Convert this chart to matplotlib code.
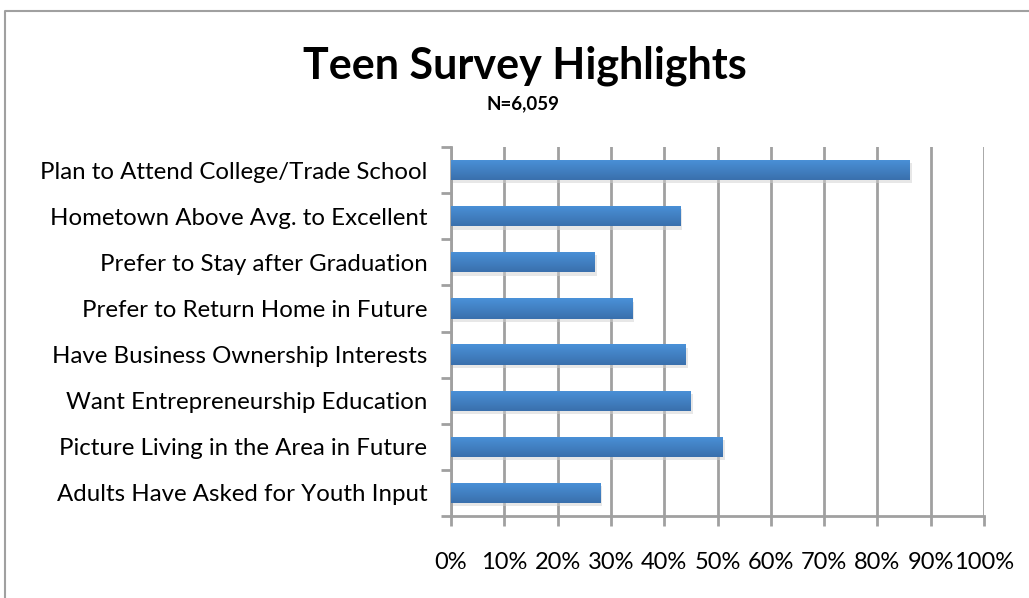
import numpy as np
import matplotlib
matplotlib.use('Agg')
import matplotlib.pyplot as plt
from matplotlib import ticker
from matplotlib.colors import LinearSegmentedColormap
from matplotlib.lines import Line2D

# chart data, top to bottom
categories = [
    'Plan to Attend College/Trade School',
    'Hometown Above Avg. to Excellent',
    'Prefer to Stay after Graduation',
    'Prefer to Return Home in Future',
    'Have Business Ownership Interests',
    'Want Entrepreneurship Education',
    'Picture Living in the Area in Future',
    'Adults Have Asked for Youth Input',
]
values = [86, 43, 27, 34, 44, 45, 51, 28]
xticks = [0, 10, 20, 30, 40, 50, 60, 70, 80, 90, 100]
title = 'Teen Survey Highlights'
subtitle = 'N=6,059'

plt.rcParams['font.family'] = ['Lato', 'DejaVu Sans']

fig = plt.figure(figsize=(10.29, 5.98), dpi=100)
ax = fig.add_axes([0.4383, 0.1371, 0.518, 0.6171])

# outer chart border (only left and top edges are visible in the crop)
fig.lines.append(Line2D([0.0045, 0.0045, 1.0], [0.0, 0.982, 0.982], transform=fig.transFigure,
                        color='#a0a0a0', linewidth=1.5))

pos = np.arange(len(categories))
bar_h = 0.44
grad = LinearSegmentedColormap.from_list('bar', ['#3a70ad', '#4a91d8'])

# soft shadow under the bars
ax.barh(pos + 0.07, values, height=bar_h, left=0.4, color='#d0d0d0', alpha=0.5, zorder=2)
bars = ax.barh(pos, values, height=bar_h, color='#4282c9', zorder=3)
for b, v, y in zip(bars, values, pos):
    img = ax.imshow(np.linspace(1, 0, 50).reshape(-1, 1), cmap=grad, aspect='auto',
                    extent=[0, v, y + bar_h / 2, y - bar_h / 2], zorder=4)
    img.set_clip_path(b)

ax.set_xlim(0, 100)
ax.set_ylim(len(categories) - 0.5, -0.5)
ax.set_xticks(xticks)
ax.set_xticklabels([f'{t}%' for t in xticks])
ax.set_yticks(pos)
ax.set_yticklabels(categories)
ax.yaxis.set_minor_locator(ticker.FixedLocator(np.arange(-0.5, len(categories), 1)))

ax.grid(axis='x', color='#a0a0a0', linewidth=2, zorder=1)
ax.set_axisbelow(True)
for s in ['top', 'right']:
    ax.spines[s].set_visible(False)
for s in ['left', 'bottom']:
    ax.spines[s].set_color('#a0a0a0')
    ax.spines[s].set_linewidth(2)

ax.tick_params(axis='y', which='major', length=0, pad=17, labelsize=17.3)
ax.tick_params(axis='y', which='minor', length=7, width=2, color='#a0a0a0')
ax.tick_params(axis='x', length=7, width=2, color='#a0a0a0', pad=19, labelsize=17)

fig.text(0.51, 0.89, title, ha='center', va='center', fontsize=31, fontweight='bold')
fig.text(0.508, 0.826, subtitle, ha='center', va='center', fontsize=13.5, fontweight='bold')

fig.savefig('out.png', dpi=100, facecolor='white')
